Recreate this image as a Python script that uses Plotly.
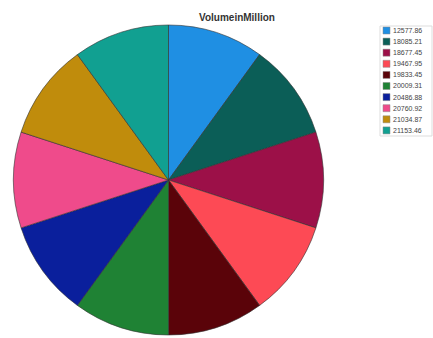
import plotly.graph_objects as go

labels = ["12577.86", "18085.21", "18677.45", "19467.95", "19833.45",
          "20009.31", "20486.88", "20760.92", "21034.87", "21153.46"]
counts = [1, 1, 1, 1, 1, 1, 1, 1, 1, 1]
colors = ["#1f8fe3", "#0b5e57", "#9c1048", "#fd4a55", "#5a0309",
          "#1f8234", "#0a1f9c", "#ef4b8b", "#c08c0c", "#11a091"]
title_text = "VolumeinMillion"

W, H = 433, 338

fig = go.Figure()
fig.add_trace(go.Pie(
    labels=labels, values=counts, sort=False, direction="clockwise", rotation=0,
    marker=dict(colors=colors, line=dict(color="#333333", width=0.6)),
    textinfo="none", hoverinfo="label", showlegend=False,
    domain=dict(x=[11 / W, 326 / W], y=[1 - 335 / H, 1 - 25 / H]),
))

shapes = []
annotations = []
# legend box
shapes.append(dict(type="rect", xref="paper", yref="paper",
                   x0=380 / W, x1=432 / W, y0=1 - 136 / H, y1=1 - 26 / H,
                   line=dict(color="#dddddd", width=1), fillcolor="white"))
for i, (lab, col) in enumerate(zip(labels, colors)):
    yc = 30.5 + i * 11.1
    shapes.append(dict(type="rect", xref="paper", yref="paper",
                       x0=383 / W, x1=390 / W,
                       y0=1 - (yc + 3.5) / H, y1=1 - (yc - 3.5) / H,
                       line=dict(color="#888888", width=0.5), fillcolor=col))
    annotations.append(dict(xref="paper", yref="paper", x=391 / W, y=1 - yc / H,
                            xanchor="left", yanchor="middle", showarrow=False,
                            text=lab, font=dict(size=7, color="#444444",
                                                family="Liberation Sans, Arial")))

annotations.append(dict(xref="paper", yref="paper", x=237 / W, y=1 - 17 / H,
                        xanchor="center", yanchor="middle", showarrow=False,
                        text="<b>" + title_text + "</b>",
                        font=dict(size=10, color="#333333",
                                  family="Liberation Sans, Arial")))

fig.update_layout(
    width=W, height=H, margin=dict(l=0, r=0, t=0, b=0),
    paper_bgcolor="white", plot_bgcolor="white",
    shapes=shapes, annotations=annotations, showlegend=False,
)
fig.write_html("out.html", config={"displayModeBar": False},
               post_script="document.body.style.margin='0';document.body.style.overflow='hidden';")
